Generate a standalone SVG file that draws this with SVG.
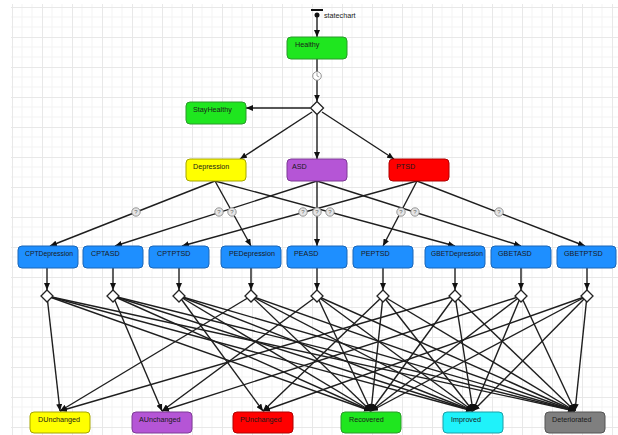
<svg xmlns="http://www.w3.org/2000/svg" width="618" height="435" viewBox="0 0 618 435">
<style>
.box{stroke-width:1}
.lbl{font-family:"Liberation Sans",Arial,sans-serif;font-size:7.2px;fill:#1a1a1a}
.ln{stroke:#222;stroke-width:1.4;fill:none}
.lna{stroke:#1e1e1e;stroke-width:1.4;fill:none;marker-end:url(#ah)}
.dia{fill:#fff;stroke:#222;stroke-width:1.3}
.q{fill:#e6e6e6;stroke:#8a8a8a;stroke-width:0.9}
.qt{font-family:"Liberation Sans",Arial,sans-serif;font-size:6px;fill:#666;text-anchor:middle}
.green{fill:#1fe61f;stroke:#2a9a2a}
.yellow{fill:#ffff00;stroke:#a6a600}
.purple{fill:#b555d6;stroke:#7e3a96}
.red{fill:#ff0000;stroke:#b00000}
.blue{fill:#1e8fff;stroke:#1a66b8}
.cyan{fill:#1ff2fa;stroke:#1aa0a8}
.gray{fill:#7f7f7f;stroke:#555}
</style>
<defs>
<marker id="ah" markerWidth="7" markerHeight="6" refX="7" refY="3" orient="auto" markerUnits="userSpaceOnUse">
<path d="M0,0 L7,3 L0,6 z" fill="#111"/>
</marker>
<pattern id="grid" x="12" y="7" width="30" height="30" patternUnits="userSpaceOnUse">
<path d="M10,0 V30 M20,0 V30 M0,10 H30 M0,20 H30" stroke="#f3f3f3" stroke-width="1" fill="none"/>
<path d="M0.5,0 V30 M0,0.5 H30" stroke="#e8e8e8" stroke-width="1" fill="none"/>
</pattern>
</defs>
<rect width="618" height="435" fill="#fff"/>
<rect x="11" y="4" width="607" height="431" fill="url(#grid)"/>

<g id="connectors">
<line class="lna" x1="317" y1="15" x2="317" y2="37"/>
<line class="lna" x1="317" y1="59" x2="317" y2="101.5"/>
<line class="lna" x1="310" y1="108" x2="246" y2="108"/>
<line class="lna" x1="312" y1="112" x2="240" y2="159"/>
<line class="lna" x1="317" y1="114.5" x2="317" y2="159"/>
<line class="lna" x1="322" y1="112" x2="394" y2="159"/>
<line class="lna" x1="215" y1="181" x2="50" y2="246"/>
<line class="lna" x1="215" y1="181" x2="251" y2="246"/>
<line class="lna" x1="215" y1="181" x2="455" y2="246"/>
<line class="lna" x1="317" y1="181" x2="115" y2="246"/>
<line class="lna" x1="317" y1="181" x2="317" y2="246"/>
<line class="lna" x1="317" y1="181" x2="521" y2="246"/>
<line class="lna" x1="417" y1="181" x2="182" y2="246"/>
<line class="lna" x1="417" y1="181" x2="383" y2="246"/>
<line class="lna" x1="417" y1="181" x2="585" y2="246"/>
<line class="lna" x1="47" y1="268" x2="47" y2="290"/>
<line class="lna" x1="113" y1="268" x2="113" y2="290"/>
<line class="lna" x1="179" y1="268" x2="179" y2="290"/>
<line class="lna" x1="251" y1="268" x2="251" y2="290"/>
<line class="lna" x1="317" y1="268" x2="317" y2="290"/>
<line class="lna" x1="383" y1="268" x2="383" y2="290"/>
<line class="lna" x1="455" y1="268" x2="455" y2="290"/>
<line class="lna" x1="521" y1="268" x2="521" y2="290"/>
<line class="lna" x1="587" y1="268" x2="587" y2="290"/>
<line class="lna" x1="47" y1="296" x2="60" y2="411"/>
<line class="lna" x1="47" y1="296" x2="371" y2="411"/>
<line class="lna" x1="47" y1="296" x2="473" y2="411"/>
<line class="lna" x1="47" y1="296" x2="575" y2="411"/>
<line class="lna" x1="113" y1="296" x2="162" y2="411"/>
<line class="lna" x1="113" y1="296" x2="371" y2="411"/>
<line class="lna" x1="113" y1="296" x2="473" y2="411"/>
<line class="lna" x1="113" y1="296" x2="575" y2="411"/>
<line class="lna" x1="179" y1="296" x2="263" y2="411"/>
<line class="lna" x1="179" y1="296" x2="371" y2="411"/>
<line class="lna" x1="179" y1="296" x2="473" y2="411"/>
<line class="lna" x1="179" y1="296" x2="575" y2="411"/>
<line class="lna" x1="251" y1="296" x2="60" y2="411"/>
<line class="lna" x1="251" y1="296" x2="371" y2="411"/>
<line class="lna" x1="251" y1="296" x2="473" y2="411"/>
<line class="lna" x1="251" y1="296" x2="575" y2="411"/>
<line class="lna" x1="317" y1="296" x2="162" y2="411"/>
<line class="lna" x1="317" y1="296" x2="371" y2="411"/>
<line class="lna" x1="317" y1="296" x2="473" y2="411"/>
<line class="lna" x1="317" y1="296" x2="575" y2="411"/>
<line class="lna" x1="383" y1="296" x2="263" y2="411"/>
<line class="lna" x1="383" y1="296" x2="371" y2="411"/>
<line class="lna" x1="383" y1="296" x2="473" y2="411"/>
<line class="lna" x1="383" y1="296" x2="575" y2="411"/>
<line class="lna" x1="455" y1="296" x2="60" y2="411"/>
<line class="lna" x1="455" y1="296" x2="371" y2="411"/>
<line class="lna" x1="455" y1="296" x2="473" y2="411"/>
<line class="lna" x1="455" y1="296" x2="575" y2="411"/>
<line class="lna" x1="521" y1="296" x2="162" y2="411"/>
<line class="lna" x1="521" y1="296" x2="371" y2="411"/>
<line class="lna" x1="521" y1="296" x2="473" y2="411"/>
<line class="lna" x1="521" y1="296" x2="575" y2="411"/>
<line class="lna" x1="587" y1="296" x2="263" y2="411"/>
<line class="lna" x1="587" y1="296" x2="371" y2="411"/>
<line class="lna" x1="587" y1="296" x2="473" y2="411"/>
<line class="lna" x1="587" y1="296" x2="575" y2="411"/>
<g id="clock">
<circle cx="317" cy="76" r="4.3" fill="#fff" stroke="#888" stroke-width="0.9"/>
<path d="M317,76 V73 M317,76 L319.2,77" stroke="#777" stroke-width="0.7" fill="none"/>
</g>
<g id="conditions">
<circle class="q" cx="136" cy="212" r="4.2"/><text class="qt" x="136" y="214.2">?</text>
<circle class="q" cx="232" cy="212" r="4.2"/><text class="qt" x="232" y="214.2">?</text>
<circle class="q" cx="330" cy="212" r="4.2"/><text class="qt" x="330" y="214.2">?</text>
<circle class="q" cx="219" cy="212" r="4.2"/><text class="qt" x="219" y="214.2">?</text>
<circle class="q" cx="317" cy="212" r="4.2"/><text class="qt" x="317" y="214.2">?</text>
<circle class="q" cx="415" cy="212" r="4.2"/><text class="qt" x="415" y="214.2">?</text>
<circle class="q" cx="303" cy="212" r="4.2"/><text class="qt" x="303" y="214.2">?</text>
<circle class="q" cx="401" cy="212" r="4.2"/><text class="qt" x="401" y="214.2">?</text>
<circle class="q" cx="499" cy="212" r="4.2"/><text class="qt" x="499" y="214.2">?</text>
</g>
</g>

<g id="start">
<line x1="311" y1="10" x2="323" y2="10" stroke="#111" stroke-width="2"/>
<circle cx="317" cy="15" r="2.5" fill="#111"/>
<text class="lbl" x="324" y="18">statechart</text>
</g>
<g id="Healthy"><rect class="box green" x="287" y="37" width="60" height="22" rx="4"/><text class="lbl" x="295" y="47">Healthy</text></g>
<g id="branch0"><polygon class="dia" points="317,101.5 323.5,108 317,114.5 310.5,108"/></g>
<g id="StayHealthy"><rect class="box green" x="186" y="102" width="60" height="22" rx="4"/><text class="lbl" x="193" y="112">StayHealthy</text></g>
<g id="Depression"><rect class="box yellow" x="186" y="159" width="60" height="22" rx="4"/><text class="lbl" x="193" y="169">Depression</text></g>
<g id="ASD"><rect class="box purple" x="287" y="159" width="60" height="22" rx="4"/><text class="lbl" x="292" y="169">ASD</text></g>
<g id="PTSD"><rect class="box red" x="389" y="159" width="60" height="22" rx="4"/><text class="lbl" x="396" y="169">PTSD</text></g>

<g id="CPTDepression"><rect class="box blue" x="18" y="246" width="60" height="22" rx="4"/><text class="lbl" x="25" y="256" textLength="48" lengthAdjust="spacingAndGlyphs">CPTDepression</text></g>
<g id="CPTASD"><rect class="box blue" x="83" y="246" width="60" height="22" rx="4"/><text class="lbl" x="91" y="256">CPTASD</text></g>
<g id="CPTPTSD"><rect class="box blue" x="149" y="246" width="60" height="22" rx="4"/><text class="lbl" x="157" y="256">CPTPTSD</text></g>
<g id="PEDepression"><rect class="box blue" x="221" y="246" width="60" height="22" rx="4"/><text class="lbl" x="229" y="256">PEDepression</text></g>
<g id="PEASD"><rect class="box blue" x="287" y="246" width="60" height="22" rx="4"/><text class="lbl" x="294" y="256">PEASD</text></g>
<g id="PEPTSD"><rect class="box blue" x="353" y="246" width="60" height="22" rx="4"/><text class="lbl" x="361" y="256">PEPTSD</text></g>
<g id="GBETDepression"><rect class="box blue" x="425" y="246" width="60" height="22" rx="4"/><text class="lbl" x="431" y="256" textLength="52" lengthAdjust="spacingAndGlyphs">GBETDepression</text></g>
<g id="GBETASD"><rect class="box blue" x="491" y="246" width="60" height="22" rx="4"/><text class="lbl" x="498" y="256">GBETASD</text></g>
<g id="GBETPTSD"><rect class="box blue" x="557" y="246" width="59" height="22" rx="4"/><text class="lbl" x="564" y="256">GBETPTSD</text></g>

<g id="branches">
<polygon class="dia" points="47,290 53,296 47,302 41,296"/>
<polygon class="dia" points="113,290 119,296 113,302 107,296"/>
<polygon class="dia" points="179,290 185,296 179,302 173,296"/>
<polygon class="dia" points="251,290 257,296 251,302 245,296"/>
<polygon class="dia" points="317,290 323,296 317,302 311,296"/>
<polygon class="dia" points="383,290 389,296 383,302 377,296"/>
<polygon class="dia" points="455,290 461,296 455,302 449,296"/>
<polygon class="dia" points="521,290 527,296 521,302 515,296"/>
<polygon class="dia" points="587,290 593,296 587,302 581,296"/>
</g>

<g id="DUnchanged"><rect class="box yellow" x="30" y="412" width="60" height="21" rx="4"/><text class="lbl" x="38" y="422">DUnchanged</text></g>
<g id="AUnchanged"><rect class="box purple" x="132" y="412" width="60" height="21" rx="4"/><text class="lbl" x="139" y="422">AUnchanged</text></g>
<g id="PUnchanged"><rect class="box red" x="233" y="412" width="60" height="21" rx="4"/><text class="lbl" x="240" y="422">PUnchanged</text></g>
<g id="Recovered"><rect class="box green" x="341" y="412" width="60" height="21" rx="4"/><text class="lbl" x="349" y="422">Recovered</text></g>
<g id="Improved"><rect class="box cyan" x="443" y="412" width="60" height="21" rx="4"/><text class="lbl" x="451" y="422">Improved</text></g>
<g id="Deteriorated"><rect class="box gray" x="545" y="412" width="60" height="21" rx="4"/><text class="lbl" x="552" y="422">Deteriorated</text></g>
</svg>
